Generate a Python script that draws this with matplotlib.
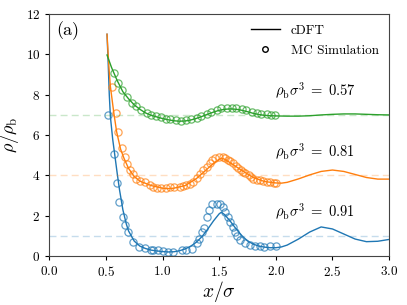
import numpy as np
import matplotlib
matplotlib.use("Agg")
import matplotlib.pyplot as plt

plt.rcParams['font.family'] = 'serif'
plt.rcParams['font.serif'] = ['cmr10', 'DejaVu Serif']
plt.rcParams['mathtext.fontset'] = 'cm'
plt.rcParams['axes.formatter.use_mathtext'] = True

# cDFT profiles (already shifted: blue +0, orange +3, green +6)
x_blue = [0.51, 0.52, 0.53, 0.54, 0.56, 0.58, 0.60, 0.62, 0.65, 0.68, 0.70, 0.75, 0.80,
          0.85, 0.90, 0.95, 1.00, 1.05, 1.10, 1.15, 1.20, 1.25, 1.30, 1.35, 1.40, 1.45,
          1.50, 1.52, 1.55, 1.60, 1.65, 1.70, 1.75, 1.80, 1.85, 1.90, 1.95, 2.00, 2.05,
          2.10, 2.20, 2.30, 2.40, 2.50, 2.60, 2.70, 2.80, 2.90, 3.00]
y_blue = [11.0, 9.6, 8.0, 6.9, 5.8, 4.95, 4.1, 3.3, 2.3, 1.6, 1.25, 0.75, 0.5,
          0.38, 0.3, 0.26, 0.23, 0.21, 0.22, 0.27, 0.36, 0.5, 0.7, 0.98, 1.35, 1.75,
          2.1, 2.18, 2.05, 1.72, 1.35, 1.02, 0.76, 0.6, 0.5, 0.45, 0.42, 0.42, 0.46,
          0.55, 0.85, 1.2, 1.45, 1.35, 1.1, 0.85, 0.72, 0.74, 0.83]

x_orange = [0.51, 0.52, 0.53, 0.54, 0.57, 0.595, 0.63, 0.66, 0.70, 0.75, 0.80, 0.90,
            1.00, 1.05, 1.10, 1.20, 1.30, 1.40, 1.45, 1.50, 1.52, 1.55, 1.60, 1.70,
            1.80, 1.90, 2.00, 2.05, 2.10, 2.20, 2.30, 2.40, 2.50, 2.60, 2.70, 2.80,
            2.90, 3.00]
y_orange = [11.0, 10.0, 9.1, 8.4, 7.1, 6.16, 5.3, 4.85, 4.35, 3.95, 3.72, 3.5,
            3.37, 3.35, 3.37, 3.5, 3.85, 4.35, 4.6, 4.8, 4.86, 4.8, 4.62, 4.25,
            3.9, 3.7, 3.63, 3.62, 3.66, 3.83, 4.03, 4.2, 4.27, 4.2, 4.05, 3.9,
            3.82, 3.82]

x_green = [0.51, 0.55, 0.60, 0.65, 0.70, 0.75, 0.80, 0.85, 0.90, 0.95, 1.00, 1.05,
           1.10, 1.15, 1.20, 1.25, 1.30, 1.35, 1.40, 1.45, 1.50, 1.55, 1.60, 1.65,
           1.70, 1.75, 1.80, 1.85, 1.90, 1.95, 2.00, 2.10, 2.20, 2.30, 2.40, 2.50,
           2.60, 2.70, 2.80, 2.90, 3.00]
y_green = [9.97, 9.35, 8.7, 8.15, 7.8, 7.5, 7.28, 7.1, 6.98, 6.9, 6.82, 6.76,
           6.71, 6.69, 6.7, 6.75, 6.83, 6.93, 7.04, 7.14, 7.23, 7.28, 7.3, 7.28,
           7.23, 7.16, 7.08, 7.02, 6.98, 6.96, 6.95, 6.94, 6.94, 6.96, 7.0, 7.03,
           7.05, 7.05, 7.03, 7.01, 7.0]

# MC simulation points
mc_x_blue = [0.52, 0.575, 0.598, 0.619, 0.654, 0.666, 0.692, 0.741, 0.794, 0.844, 0.894,
             0.92, 0.962, 1.006, 1.05, 1.094, 1.168, 1.21, 1.257, 1.30, 1.325, 1.35,
             1.37, 1.39, 1.41, 1.44, 1.48, 1.51, 1.53, 1.55, 1.58, 1.60, 1.62, 1.64,
             1.66, 1.68, 1.73, 1.77, 1.82, 1.86, 1.90, 1.95, 2.00]
mc_y_blue = [6.99, 5.04, 3.64, 2.71, 1.95, 1.54, 1.21, 0.72, 0.48, 0.40, 0.32,
             0.30, 0.30, 0.26, 0.21, 0.21, 0.30, 0.33, 0.38, 0.63, 0.83, 1.2,
             1.4, 1.95, 2.31, 2.58, 2.61, 2.58, 2.42, 2.2, 1.95, 1.7, 1.46, 1.22,
             1.0, 0.81, 0.65, 0.57, 0.5, 0.5, 0.47, 0.5, 0.5]

mc_x_orange = [0.556, 0.586, 0.603, 0.639, 0.668, 0.689, 0.712, 0.74, 0.77, 0.80, 0.845,
               0.889, 0.92, 0.948, 0.99, 1.03, 1.07, 1.10, 1.15, 1.18, 1.21, 1.24, 1.27,
               1.30, 1.33, 1.36, 1.39, 1.42, 1.44, 1.46, 1.50, 1.53, 1.555, 1.58, 1.60,
               1.62, 1.65, 1.67, 1.69, 1.71, 1.73, 1.76, 1.78, 1.80, 1.83, 1.86, 1.89,
               1.92, 1.95, 1.98, 2.00]
mc_y_orange = [8.39, 7.12, 6.16, 5.34, 4.92, 4.55, 4.26, 4.05, 3.85, 3.75, 3.68,
               3.55, 3.45, 3.39, 3.36, 3.36, 3.44, 3.45, 3.42, 3.5, 3.55, 3.6, 3.7,
               3.88, 4.05, 4.26, 4.4, 4.6, 4.75, 4.85, 4.93, 4.92, 4.85, 4.76, 4.7,
               4.6, 4.45, 4.35, 4.28, 4.18, 4.12, 4.0, 3.92, 3.85, 3.78, 3.76, 3.72,
               3.68, 3.66, 3.63, 3.62]

mc_x_green = [0.571, 0.609, 0.639, 0.683, 0.727, 0.77, 0.81, 0.86, 0.90, 0.94, 0.99,
              1.03, 1.07, 1.12, 1.16, 1.21, 1.25, 1.30, 1.34, 1.39, 1.43, 1.48, 1.52,
              1.57, 1.61, 1.65, 1.70, 1.74, 1.79, 1.83, 1.87, 1.92, 1.96, 1.99]
mc_y_green = [9.09, 8.59, 8.23, 7.9, 7.6, 7.43, 7.25, 7.1, 7.0, 6.97, 6.9,
              6.82, 6.78, 6.73, 6.68, 6.73, 6.78, 6.87, 6.95, 7.06, 7.16, 7.25, 7.33,
              7.33, 7.34, 7.33, 7.28, 7.23, 7.16, 7.11, 7.06, 7.03, 7.0, 6.98]

bulk_levels = [1, 4, 7]
labels = [r'$\rho_\mathrm{b}\sigma^3\;=\;0.91$', r'$\rho_\mathrm{b}\sigma^3\;=\;0.81$',
          r'$\rho_\mathrm{b}\sigma^3\;=\;0.57$']
label_y = [2.2, 5.17, 8.2]
colors = ['tab:blue', 'tab:orange', 'tab:green']

fig = plt.figure(figsize=(4.07, 3.05), dpi=100)
ax = fig.add_axes([0.121, 0.16, 0.835, 0.794])

curves = [(x_blue, y_blue, mc_x_blue, mc_y_blue),
          (x_orange, y_orange, mc_x_orange, mc_y_orange),
          (x_green, y_green, mc_x_green, mc_y_green)]

for (xl, yl, xm, ym), c, lvl in zip(curves, colors, bulk_levels):
    ax.axhline(lvl, color=c, ls='--', lw=1, alpha=0.25, dashes=(5, 3))
    ax.plot(xl, yl, color=c, lw=1)
    ax.plot(xm, ym, 'o', mfc='none', mec=c, ms=5.2, mew=0.9, alpha=0.7)

for lab, yy in zip(labels, label_y):
    ax.text(1.99, yy, lab, fontsize=10.5, va='center', ha='left')

ax.plot([], [], color='black', lw=1, label='cDFT')
ax.plot([], [], 'o', mfc='none', mec='black', ms=4, mew=1, label='MC Simulation')
ax.legend(loc='upper right', frameon=False, fontsize=9.5, handlelength=2.2,
          borderaxespad=0.4, labelspacing=0.6)

ax.text(0.022, 0.97, '(a)', transform=ax.transAxes, fontsize=13, va='top', ha='left')

ax.set_xlim(0, 3)
ax.set_ylim(0, 12)
ax.set_xticks(np.arange(0, 3.01, 0.5))
ax.set_yticks(np.arange(0, 12.1, 2))
ax.tick_params(labelsize=9.5, length=3, width=0.8, direction='out')
for s in ax.spines.values():
    s.set_color('#444444')
ax.set_xlabel(r'$x/\sigma$', fontsize=14, labelpad=0)
ax.set_ylabel(r'$\rho/\rho_\mathrm{b}$', fontsize=13, labelpad=3)

fig.savefig('out.png', dpi=100)
